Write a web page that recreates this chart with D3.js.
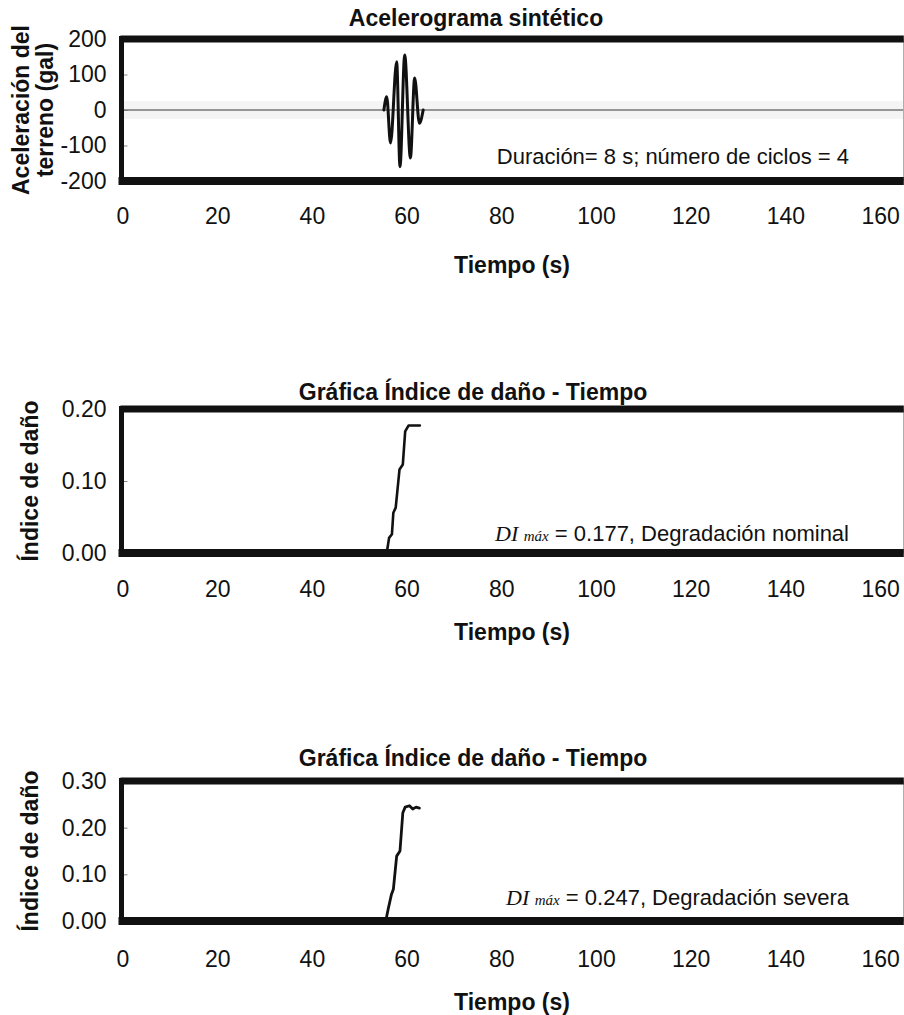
<!DOCTYPE html>
<html>
<head>
<meta charset="utf-8">
<script src="https://cdn.jsdelivr.net/npm/d3@7"></script>
<style>
  html, body { margin: 0; padding: 0; background: #fff; }
  svg { display: block; }
  text { font-family: "Liberation Sans", Arial, sans-serif; fill: #111; }
</style>
</head>
<body>
<svg id="fig" width="904" height="1015"></svg>
<script>
// Time axis shared by the three panels
const timeTicks = [0, 20, 40, 60, 80, 100, 120, 140, 160];

// Synthetic accelerogram: a short burst of 4 cycles (8 s) around t = 60 s
const accTicks = [200, 100, 0, -100, -200];
const accTime  = [0, 55.2, 55.8, 56.6, 57.9, 58.6, 59.6, 60.8, 61.7, 62.7, 63.5, 165];
const accValue = [0, 0,    37,  -93,  136, -160,  155, -135,   90,  -37,    0,   0];

// Damage index history, nominal degradation
const damageTicksA = [0, 0.1, 0.2];
const damageTimeA  = [0, 55.8, 56.3, 56.9, 57.2, 57.7, 58.5, 59.2, 59.7, 60.4, 62.8];
const damageValueA = [0, 0,    0.021, 0.026, 0.056, 0.063, 0.116, 0.123, 0.169, 0.177, 0.177];

// Damage index history, severe degradation
const damageTicksB = [0, 0.1, 0.2, 0.3];
const damageTimeB  = [0, 55.6, 56.1, 56.8, 57.2, 57.9, 58.6, 59.2, 59.7, 60.6, 61.3, 62.0, 62.7];
const damageValueB = [0, 0,    0.025, 0.057, 0.068, 0.139, 0.150, 0.232, 0.244, 0.247, 0.240, 0.244, 0.242];

const svg = d3.select("#fig");
svg.append("rect").attr("width", 904).attr("height", 1015).attr("fill", "#fff");

const x = d3.scaleLinear().domain([0, 165]).range([122.5, 903.8]);

function panel(opts) {
  const y = d3.scaleLinear().domain(opts.yDomain).range(opts.yRange);
  const g = svg.append("g");
  const [y0, y1] = opts.yRange; // bottom, top

  if (opts.band) {
    g.append("rect")
      .attr("x", x(0)).attr("width", x(165) - x(0))
      .attr("y", y(opts.band)).attr("height", y(-opts.band) - y(opts.band))
      .attr("fill", "#f4f4f4");
  }

  // y axis: labels to the left, short ticks pointing into the plot
  const ya = d3.axisLeft(y).tickValues(opts.yTicks).tickFormat(opts.yFormat)
    .tickSizeInner(-5).tickSizeOuter(0).tickPadding(16);
  const yg = g.append("g").attr("transform", `translate(${x(0)},0)`).call(ya);
  yg.select(".domain").remove();
  yg.selectAll(".tick line").attr("stroke", "#888").attr("stroke-width", 1);
  yg.selectAll("text").attr("font-size", 23).attr("fill", "#111");

  // x axis: labels only
  const xa = d3.axisBottom(x).tickValues(timeTicks).tickFormat(d3.format("d"))
    .tickSize(0).tickPadding(opts.xPad);
  const xg = g.append("g").attr("transform", `translate(0,${y0})`).call(xa);
  xg.select(".domain").remove();
  xg.selectAll("text").attr("font-size", 23).attr("fill", "#111");

  // series
  const line = d3.line().x(d => x(d[0])).y(d => y(d[1])).curve(opts.curve);
  const pts = opts.t.map((t, i) => [t, opts.v[i]]);
  if (opts.baseline) {
    g.append("line").attr("x1", x(0)).attr("x2", x(165))
      .attr("y1", y(0)).attr("y2", y(0))
      .attr("stroke", "#777").attr("stroke-width", 1.5);
  }
  g.append("path").datum(pts.filter(p => !opts.baseline || (p[0] > 55 && p[0] < 64)))
    .attr("d", line).attr("fill", "none")
    .attr("stroke", "#111").attr("stroke-width", opts.lineWidth)
    .attr("stroke-linejoin", "round").attr("stroke-linecap", "round");

  // plot frame
  g.append("line").attr("x1", x(165)).attr("x2", x(165)).attr("y1", y1).attr("y2", y0)
    .attr("stroke", "#aaa").attr("stroke-width", 1.5);
  g.append("line").attr("x1", x(0) - 2).attr("x2", x(165)).attr("y1", y1).attr("y2", y1)
    .attr("stroke", "#111").attr("stroke-width", 7);
  g.append("line").attr("x1", x(0) - 4).attr("x2", x(165)).attr("y1", y0).attr("y2", y0)
    .attr("stroke", "#111").attr("stroke-width", 8);
  g.append("line").attr("x1", x(0) - 1).attr("x2", x(0) - 1).attr("y1", y1 - 3).attr("y2", y0 + 3)
    .attr("stroke", "#111").attr("stroke-width", 5);

  // titles
  g.append("text").attr("x", opts.titleX).attr("y", opts.titleY)
    .attr("text-anchor", "middle").attr("font-size", 23).attr("font-weight", "bold")
    .text(opts.title);
  g.append("text").attr("x", 512).attr("y", opts.xTitleY)
    .attr("text-anchor", "middle").attr("font-size", 23).attr("font-weight", "bold")
    .text("Tiempo (s)");

  const yc = (y0 + y1) / 2;
  opts.yTitle.forEach((s, i) => {
    g.append("text")
      .attr("transform", `translate(${opts.yTitleX + i * 24},${yc}) rotate(-90)`)
      .attr("text-anchor", "middle").attr("font-size", 23).attr("font-weight", "bold")
      .text(s);
  });

  opts.note(g, y);
}

panel({
  yDomain: [-200, 200], yRange: [181, 39], yTicks: accTicks,
  yFormat: d => String(d), xPad: 27, band: 25, baseline: true,
  t: accTime, v: accValue, curve: d3.curveMonotoneX, lineWidth: 3,
  title: "Acelerograma sintético", titleX: 476, titleY: 26, xTitleY: 273,
  yTitle: ["Aceleración del", "terreno (gal)"], yTitleX: 29,
  note: (g) => {
    g.append("text").attr("x", 849).attr("y", 164).attr("text-anchor", "end")
      .attr("font-size", 22).text("Duración= 8 s; número de ciclos = 4");
  }
});

function diNote(g, yBase, value, grade) {
  const t = g.append("text").attr("x", 849).attr("y", yBase).attr("text-anchor", "end").attr("font-size", 22);
  t.append("tspan").attr("font-family", "'Liberation Serif', 'Times New Roman', serif")
    .attr("font-style", "italic").attr("font-size", 22).text("DI ");
  t.append("tspan").attr("font-family", "'Liberation Serif', 'Times New Roman', serif")
    .attr("font-style", "italic").attr("font-size", 15).text("máx");
  t.append("tspan").text(" = " + d3.format(".3f")(value) + ", " + grade);
}

panel({
  yDomain: [0, 0.2], yRange: [553, 409], yTicks: damageTicksA,
  yFormat: d3.format(".2f"), xPad: 28,
  t: damageTimeA, v: damageValueA, curve: d3.curveLinear, lineWidth: 2.6,
  title: "Gráfica Índice de daño - Tiempo", titleX: 473, titleY: 400, xTitleY: 640,
  yTitle: ["Índice de daño"], yTitleX: 38,
  note: (g) => diNote(g, 541, d3.max(damageValueA), "Degradación nominal")
});

panel({
  yDomain: [0, 0.3], yRange: [921, 781], yTicks: damageTicksB,
  yFormat: d3.format(".2f"), xPad: 30,
  t: damageTimeB, v: damageValueB, curve: d3.curveLinear, lineWidth: 2.8,
  title: "Gráfica Índice de daño - Tiempo", titleX: 473, titleY: 766, xTitleY: 1010,
  yTitle: ["Índice de daño"], yTitleX: 38,
  note: (g) => diNote(g, 905, d3.max(damageValueB), "Degradación severa")
});
</script>
</body>
</html>
